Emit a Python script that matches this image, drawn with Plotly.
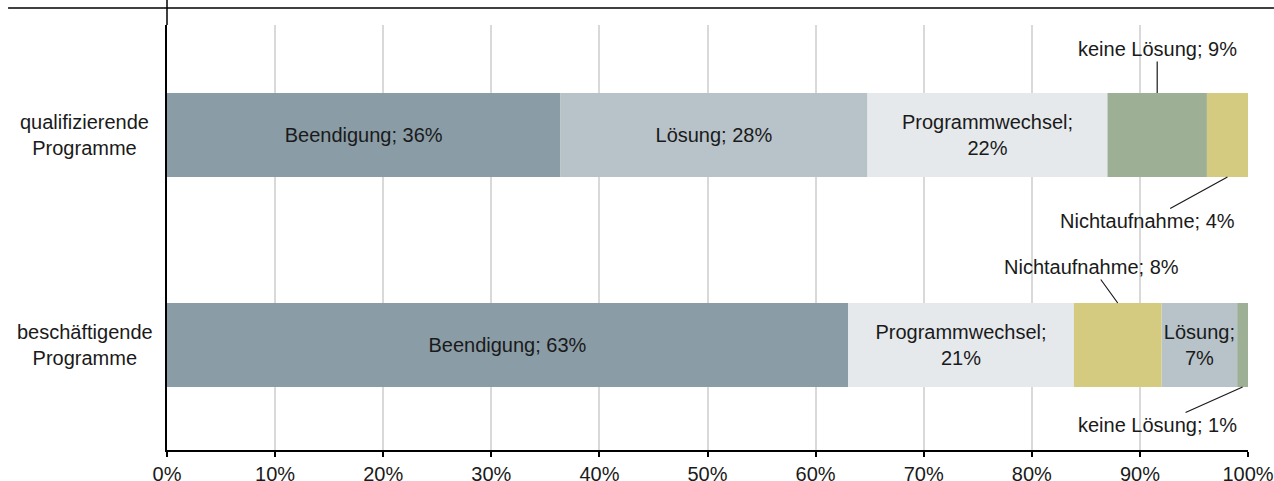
import plotly.graph_objects as go

categories = ["beschäftigende Programme", "qualifizierende Programme"]
cat_labels = ["beschäftigende<br>Programme", "qualifizierende<br>Programme"]

series = ["Beendigung", "Lösung", "Programmwechsel", "keine Lösung", "Nichtaufnahme"]
colors = {"Beendigung": "#8A9CA6", "Lösung": "#B7C3C9", "Programmwechsel": "#E5E9EC",
          "keine Lösung": "#9DAF94", "Nichtaufnahme": "#D5CB80"}

# values per category (percent)
values_qual = {"Beendigung": 36.4, "Lösung": 28.4, "Programmwechsel": 22.2,
               "keine Lösung": 9.2, "Nichtaufnahme": 3.8}
values_besch = {"Beendigung": 63.0, "Programmwechsel": 20.9, "Nichtaufnahme": 8.1,
                "Lösung": 7.0, "keine Lösung": 1.0}
order_qual = ["Beendigung", "Lösung", "Programmwechsel", "keine Lösung", "Nichtaufnahme"]
order_besch = ["Beendigung", "Programmwechsel", "Nichtaufnahme", "Lösung", "keine Lösung"]

# inside label text (two-line where the original wraps)
inside_qual = {"Beendigung": "Beendigung; {v}%", "Lösung": "Lösung; {v}%",
               "Programmwechsel": "Programmwechsel;<br>{v}%"}
inside_besch = {"Beendigung": "Beendigung; {v}%", "Programmwechsel": "Programmwechsel;<br>{v}%",
                "Lösung": "Lösung;<br>{v}%"}
# outside labels: (series, side, ax, ay) pixel offsets of label centre from the bar edge
outside_qual = [("keine Lösung", "top", 0, -44), ("Nichtaufnahme", "bottom", -80, 44)]
outside_besch = [("Nichtaufnahme", "top", -26, -36), ("keine Lösung", "bottom", -85, 38)]

data_by_cat = {
    "qualifizierende Programme": (values_qual, order_qual, inside_qual, outside_qual),
    "beschäftigende Programme": (values_besch, order_besch, inside_besch, outside_besch),
}

BAR_W = 0.4
FONT = "Liberation Sans, Arial, sans-serif"
FS = 20
TXT = "#1a1a1a"

def starts(vals, order):
    s, acc = {}, 0.0
    for k in order:
        s[k] = acc
        acc += vals[k]
    return s

fig = go.Figure()
annotations = []
for name in series:
    xs, bases, texts = [], [], []
    for ci, cat in enumerate(categories):
        vals, order, inside, outside = data_by_cat[cat]
        st = starts(vals, order)
        xs.append(vals[name])
        bases.append(st[name])
        v = round(vals[name])
        texts.append(inside[name].format(v=v) if name in inside else "")
        for (sname, side, ax, ay) in outside:
            if sname == name:
                xc = st[name] + vals[name] / 2
                yedge = ci + BAR_W / 2 if side == "top" else ci - BAR_W / 2
                annotations.append(dict(
                    x=xc, y=yedge, xref="x", yref="y",
                    text=f"{name}; {v}%", showarrow=True, arrowhead=0,
                    arrowwidth=1.2, arrowcolor="#1a1a1a", ax=ax, ay=ay,
                    font=dict(family=FONT, size=FS, color=TXT)))
    fig.add_trace(go.Bar(
        y=categories, x=xs, base=bases, orientation="h", name=name,
        marker=dict(color=colors[name], line=dict(width=0)),
        width=BAR_W, text=texts, textposition="inside", insidetextanchor="middle",
        textangle=0, constraintext="none",
        textfont=dict(family=FONT, size=FS, color=TXT),
        hoverinfo="skip"))

for ci, lab in enumerate(cat_labels):
    annotations.append(dict(
        x=-0.076, y=ci, xref="paper", yref="y", text=lab, showarrow=False,
        xanchor="center", yanchor="middle", align="center",
        font=dict(family=FONT, size=FS, color=TXT)))

fig.update_layout(
    width=1274, height=481,
    margin=dict(l=167, r=26, t=25, b=31),
    paper_bgcolor="white", plot_bgcolor="white",
    barmode="overlay", showlegend=False,
    annotations=annotations,
    font=dict(family=FONT, size=FS, color=TXT),
    xaxis=dict(range=[0, 100], dtick=10, ticksuffix="%", showgrid=True,
               gridcolor="#D9D9D9", gridwidth=1.5, zeroline=False, automargin=False,
               showline=True, linecolor="black", linewidth=1.5,
               ticks="outside", ticklen=5, tickcolor="black", tickwidth=1.5,
               tickfont=dict(family=FONT, size=FS, color=TXT)),
    yaxis=dict(type="category", range=[-0.5, 1.524], showticklabels=False,
               showgrid=False, zeroline=False, showline=True, automargin=False,
               linecolor="black", linewidth=1.5, ticks=""),
    shapes=[
        dict(type="line", xref="paper", yref="paper", x0=0, x1=0, y0=1, y1=1.06,
             line=dict(color="black", width=1.5)),
        dict(type="line", xref="paper", yref="paper", x0=-0.147, x1=1.024,
             y0=1.04, y1=1.04, line=dict(color="black", width=1.5)),
    ],
)

fig.write_html(
    "out.html",
    config={"displayModeBar": False},
    post_script=("document.documentElement.style.margin='0';"
                 "document.body.style.margin='0';"
                 "document.documentElement.style.overflow='hidden';"
                 "document.body.style.overflow='hidden';"),
)
